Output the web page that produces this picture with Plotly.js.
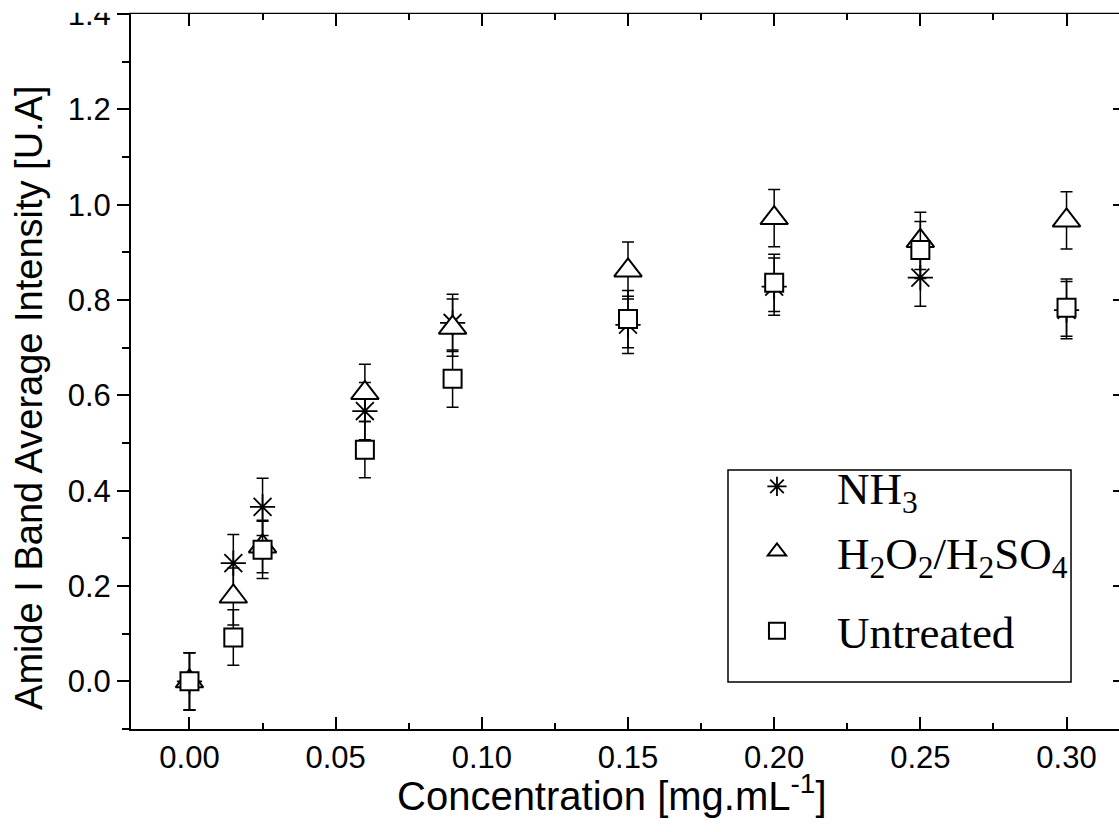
<!DOCTYPE html>
<html>
<head>
<meta charset="utf-8">
<script src="https://cdn.plot.ly/plotly-3.0.1.min.js"></script>
<style>
  html, body { margin: 0; padding: 0; background: #ffffff; overflow: hidden; }
  #chart { width: 1160px; height: 832px; }
</style>
</head>
<body>
<div id="chart"></div>
<script>
// Concentration [mg.mL^-1]
const concentration = [0, 0.015, 0.025, 0.06, 0.09, 0.15, 0.2, 0.25, 0.3];

// Amide I band average intensity [U.A]
const nh3Values       = [0, 0.248, 0.366, 0.567, 0.752, 0.748, 0.828, 0.847, 0.779];
const h2o2Values      = [0, 0.178, 0.283, 0.605, 0.742, 0.862, 0.972, 0.924, 0.967];
const untreatedValues = [0, 0.092, 0.276, 0.486, 0.635, 0.760, 0.836, 0.905, 0.784];

// error bars (±)
const nh3Errors       = [0.06, 0.06, 0.06, 0.06, 0.06, 0.06, 0.06, 0.06, 0.06];
const h2o2Errors      = [0.06, 0.06, 0.055, 0.06, 0.06, 0.06, 0.06, 0.06, 0.06];
const untreatedErrors = [0.06, 0.058, 0.06, 0.059, 0.06, 0.06, 0.06, 0.06, 0.06];

const seriesNames = ['NH<sub>3</sub>', 'H<sub>2</sub>O<sub>2</sub>/H<sub>2</sub>SO<sub>4</sub>', 'Untreated'];

const yTitle = 'Amide I Band Average Intensity [U.A]';
const xTitle = 'Concentration [mg.mL<sup>-1</sup>]';

const sansFont = 'Liberation Sans, Arial, Helvetica, sans-serif';
const serifFont = 'Liberation Serif, Times New Roman, serif';

function errBar(arr) {
  return { type: 'data', array: arr, visible: true, color: '#000', thickness: 1.5, width: 6 };
}

const traces = [
  {
    x: concentration, y: nh3Values, name: seriesNames[0], mode: 'markers', legend: 'legend',
    marker: { symbol: 'asterisk-open', size: 21, color: '#000', line: { color: '#000', width: 1.8 } },
    error_y: errBar(nh3Errors), hoverinfo: 'x+y'
  },
  {
    x: concentration, y: h2o2Values, name: seriesNames[1], mode: 'markers', legend: 'legend2',
    marker: { symbol: 'triangle-up', size: 24, color: '#fff', line: { color: '#000', width: 2 } },
    error_y: errBar(h2o2Errors), hoverinfo: 'x+y'
  },
  {
    x: concentration, y: untreatedValues, name: seriesNames[2], mode: 'markers', legend: 'legend3',
    marker: { symbol: 'square', size: 18, color: '#fff', line: { color: '#000', width: 2 } },
    error_y: errBar(untreatedErrors), hoverinfo: 'x+y'
  },
  { x: [], y: [], yaxis: 'y2', showlegend: false, hoverinfo: 'skip', mode: 'markers' }
];

const legendCommon = {
  x: 0.5895, xanchor: 'left', yanchor: 'middle',
  bgcolor: 'rgba(0,0,0,0)', borderwidth: 0, itemwidth: 110,
  font: { family: serifFont, size: 45, color: '#000' }
};

const yRange = [-0.1, 1.4001];

const layout = {
  width: 1160, height: 832,
  margin: { l: 131, r: 35, t: 14, b: 103 },
  paper_bgcolor: '#fff', plot_bgcolor: '#fff',
  showlegend: true,
  font: { family: sansFont, color: '#000' },
  xaxis: {
    range: [-0.02, 0.32], tick0: 0, dtick: 0.05, tickformat: '.2f',
    ticks: 'inside', ticklen: 12, tickwidth: 2, tickcolor: '#000',
    showline: true, linewidth: 2, linecolor: '#000', mirror: 'ticks',
    showgrid: false, zeroline: false,
    tickfont: { family: sansFont, size: 31, color: '#000' },
    ticklabelstandoff: 0, ticklabeloverflow: 'allow',
    minor: { dtick: 0.025, ticks: 'inside', ticklen: 6, tickwidth: 2, tickcolor: '#000', showgrid: false }
  },
  yaxis: {
    range: yRange, tick0: 0, dtick: 0.2, tickformat: '.1f',
    ticks: 'outside', ticklen: 12, tickwidth: 2, tickcolor: '#000',
    showline: true, linewidth: 2, linecolor: '#000', mirror: false,
    showgrid: false, zeroline: false,
    tickfont: { family: sansFont, size: 31, color: '#000' },
    ticklabeloverflow: 'allow',
    minor: { dtick: 0.1, ticks: 'outside', ticklen: 7, tickwidth: 2, tickcolor: '#000', showgrid: false }
  },
  yaxis2: {
    overlaying: 'y', side: 'right', anchor: 'x', matches: 'y',
    range: yRange, tick0: 0, dtick: 0.2,
    ticks: 'inside', ticklen: 12, tickwidth: 2, tickcolor: '#000',
    showline: true, linewidth: 2, linecolor: '#000',
    showticklabels: false, showgrid: false, zeroline: false,
    minor: { dtick: 0.1, ticks: 'inside', ticklen: 6, tickwidth: 2, tickcolor: '#000', showgrid: false }
  },
  legend: Object.assign({}, legendCommon, { y: 0.3390 }),
  legend2: Object.assign({}, legendCommon, { y: 0.2480 }),
  legend3: Object.assign({}, legendCommon, { y: 0.1370 }),
  shapes: [
    { type: 'rect', xref: 'paper', yref: 'paper', x0: 0.6006, x1: 0.9457, y0: 0.0657, y1: 0.3622,
      line: { color: '#000', width: 1.5 }, fillcolor: 'rgba(0,0,0,0)', layer: 'above' },
    { type: 'rect', xref: 'paper', yref: 'paper', x0: -0.2, x1: 1.1, y0: 1.0018, y1: 1.06,
      line: { width: 0 }, fillcolor: '#fff', layer: 'above' }
  ],
  annotations: [
    { text: yTitle, xref: 'paper', yref: 'paper', x: -0.1026, y: 0.463, xanchor: 'center', yanchor: 'middle',
      textangle: -90, showarrow: false, font: { family: sansFont, size: 38, color: '#000' } },
    { text: xTitle, xref: 'paper', yref: 'paper', x: 0.4839, y: -0.0895, xanchor: 'center', yanchor: 'middle',
      showarrow: false, font: { family: sansFont, size: 40, color: '#000' } }
  ]
};

Plotly.newPlot('chart', traces, layout, { displayModeBar: false, responsive: false });
</script>
</body>
</html>
